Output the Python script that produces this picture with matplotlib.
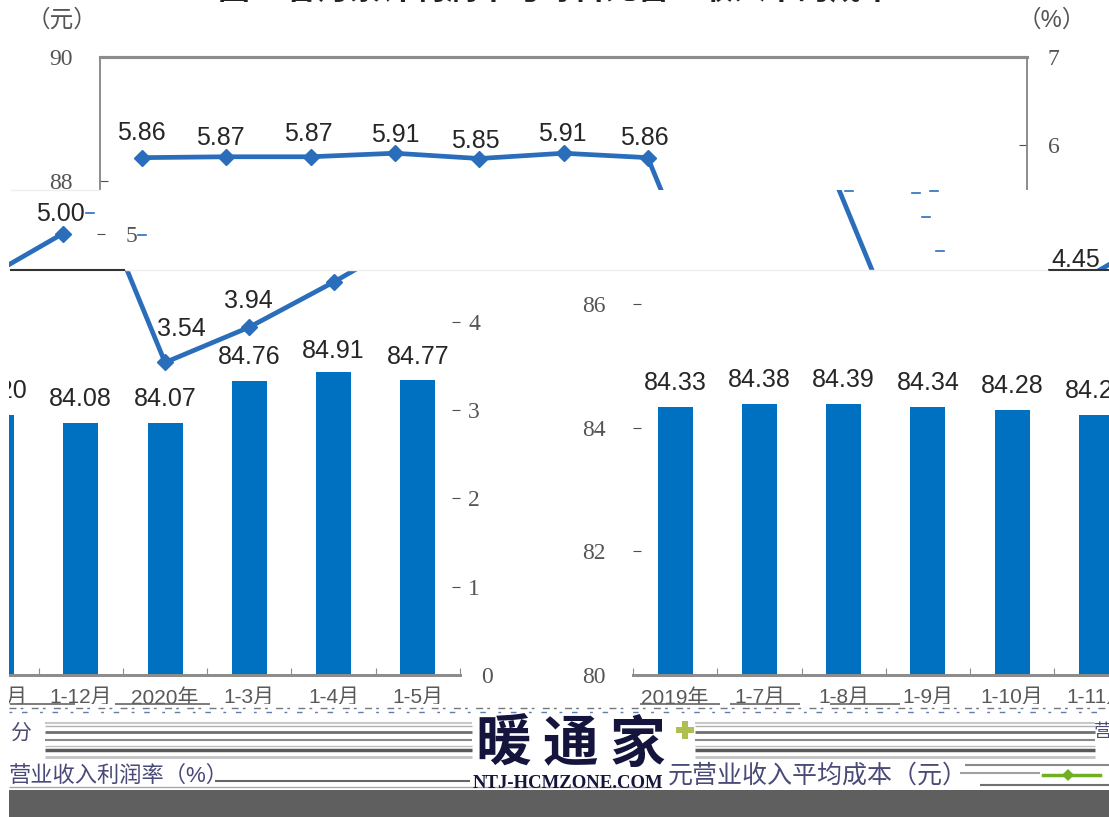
import matplotlib
matplotlib.use('Agg')
from matplotlib import pyplot as plt
from matplotlib.transforms import Bbox, TransformedBbox

plt.rcParams['font.family'] = ['Liberation Sans', 'Noto Sans CJK SC', 'DejaVu Sans']

W, H = 1109, 817

categories = ['2019年', '1-7月', '1-8月', '1-9月', '1-10月', '1-11月',
              '1-12月', '2020年', '1-3月', '1-4月', '1-5月']
cost = [84.33, 84.38, 84.39, 84.34, 84.28, 84.20, 84.08, 84.07, 84.76, 84.91, 84.77]
margin = [5.86, 5.87, 5.87, 5.91, 5.85, 5.91, 5.86, 3.54, 3.94, 4.45, 5.00]
left_ticks = [80, 82, 84, 86, 88, 90]
right_ticks = [0, 1, 2, 3, 4, 5, 6, 7]

# label nudges in pixels, the labels do not sit evenly in the picture
margin_dx = [-1, -6, -2, 0, -4, -1, -3, 16, -1, -3, -2]
margin_dy = [25, 19, 23, 18, 18, 19, 20, 33, 26, 22, 20]
cost_dy = [24, 24, 24, 24, 24, 24, 24, 24, 24, 21, 23]

BLUE_BAR = '#0070c0'
BLUE_LINE = '#2a6ebb'
GREY = '#8c8c8c'
TEXT = '#262626'
TICK = '#4d4d4d'

fig = plt.figure(figsize=(W / 100, H / 100), dpi=100)


def px_box(x0, y0, x1, y1):
    return [x0 / W, 1 - y1 / H, (x1 - x0) / W, (y1 - y0) / H]


def draw_chart(shift, top, bottom, left_edge, with_sides):
    # same chart each time, shifted sideways and cut to one horizontal band
    ax = fig.add_axes(px_box(100 + shift, 57, 1027 + shift, 675))
    ax2 = ax.twinx()
    ax.patch.set_visible(False)
    ax2.patch.set_visible(False)

    xs = list(range(len(categories)))
    ax.bar(xs, [v - left_ticks[0] for v in cost], bottom=left_ticks[0],
           width=0.415, color=BLUE_BAR)
    ax.set_xlim(-0.5, 10.5)
    ax.set_ylim(80, 90)
    ax.set_xticks([x - 0.5 for x in xs] + [10.5])
    ax.set_xticklabels([])
    ax.set_xticks(xs, minor=True)
    ax.set_xticklabels(categories, minor=True, fontsize=15, color='#595959')
    ax.tick_params(axis='x', which='major', direction='in', length=5, color=GREY)
    ax.tick_params(axis='x', which='minor', length=0, pad=9.5)
    ax.set_yticks(left_ticks)
    ax.tick_params(axis='y', direction='in', length=5.8, color=TICK, pad=28,
                   labelsize=17, labelcolor='#555555')
    for lab in ax.get_yticklabels():
        lab.set_family('Liberation Serif')
        lab.set_ha('center')

    ax2.plot(xs, margin, color=BLUE_LINE, lw=3.4, marker='D', ms=8.5)
    ax2.set_ylim(0, 7)
    ax2.set_yticks(right_ticks)
    ax2.tick_params(axis='y', direction='in', length=5.8, color=TICK, pad=15,
                    labelsize=17, labelcolor='#555555')
    for lab in ax2.get_yticklabels():
        lab.set_family('Liberation Serif')
    # the 1 to 4 labels sit closer to the axis than the others
    for tick, val in zip(ax2.yaxis.get_major_ticks(), right_ticks):
        if 1 <= val <= 4:
            tick.set_pad(6)

    for x, v, dy in zip(xs, cost, cost_dy):
        ax.annotate(f'{v:.2f}', (x, v), xytext=(0, dy), textcoords='offset pixels',
                    ha='center', va='center', fontsize=18, color=TEXT)
    for x, v, dx, dy in zip(xs, margin, margin_dx, margin_dy):
        ax2.annotate(f'{v:.2f}', (x, v), xytext=(dx, dy), textcoords='offset pixels',
                     ha='center', va='center', fontsize=18, color=TEXT)

    for a in (ax, ax2):
        for name, spine in a.spines.items():
            spine.set_color(GREY)
            spine.set_linewidth(1.2)
            if name in ('left', 'right') and not with_sides:
                spine.set_visible(False)
        a.spines['top'].set_visible(with_sides)
        a.spines['top'].set_linewidth(2.2)
        a.spines['bottom'].set_linewidth(2)

    box = TransformedBbox(Bbox([[left_edge / W, 1 - bottom / H], [1, 1 - top / H]]),
                          fig.transFigure)
    for a in (ax, ax2):
        for art in a.findobj():
            if art is a:
                continue
            art.set_clip_path(None)
            art.set_clip_box(box)
            art.set_clip_on(True)


draw_chart(0, 0, 190, 0, True)
draw_chart(178, 190, 270, 9, False)
draw_chart(-922, 190, 270, 9, False)
draw_chart(533, 270, 704, 9, False)
draw_chart(-567, 270, 704, 9, False)

# page furniture and the damaged strip at the bottom, in pixel coordinates
top = fig.add_axes([0, 0, 1, 1], zorder=10)
top.set_xlim(0, W)
top.set_ylim(H, 0)
top.axis('off')

top.text(556, -9, '图2  各月累计利润率与每百元营业收入中的成本', ha='center', va='center',
         fontsize=23, fontweight='bold', color='#222222')
top.text(62, 20, '（元）', ha='center', va='center', fontsize=17, color='#555555')
top.text(1052, 20, '（%）', ha='center', va='center', fontsize=17, color='#555555')

top.hlines(190, 10, 100, color='#eeeeee', lw=1)
top.hlines(270, 10, 125, color='#333333', lw=1.5)
top.hlines(270, 1048, 1109, color='#333333', lw=1.5)
top.hlines(270, 125, 1048, color='#eeeeee', lw=1)

# stray blue flecks left in the damaged band
for x, y in [(90, 213), (142, 235), (849, 191), (916, 193), (934, 191), (926, 217), (940, 251)]:
    top.plot([x - 4, x + 4], [y, y], color=BLUE_LINE, lw=1.2)

top.hlines([704] * 5, [10, 115, 640, 730, 830], [75, 210, 720, 800, 900], color='#666666', lw=1.2)
top.hlines(708, 9, 1109, color='#777777', lw=1, linestyles=[(0, (5, 3, 2, 6))])
top.hlines(712, 9, 1109, color='#5b7fb5', lw=1, linestyles=[(0, (2, 7, 4, 9))])

stripes = [(723, '#c8c8c8', 1.5), (726, '#b0b0b0', 1), (732, '#707070', 2), (740, '#8a8a8a', 1.5),
           (746, '#bdbdbd', 1), (750, '#5a5a5a', 2.5), (757, '#c4c4c4', 2)]
for y, c, lw in stripes:
    top.hlines(y, 45, 472, color=c, lw=lw)
    top.hlines(y, 695, 1095, color=c, lw=lw)
top.hlines(765, 965, 1109, color='#8a8a8a', lw=1.5)
top.hlines(773, 960, 1040, color='#a0a0a0', lw=1.5)
top.hlines(781, 215, 470, color='#666666', lw=1.5)
top.hlines(785, 980, 1109, color='#707070', lw=1.5)
top.hlines(787, 9, 660, color='#a8a8a8', lw=1)

top.fill_between([9, W], 790, H, color='#5f5f5f', lw=0)

for x, ch in zip([503, 570, 637], '暖通家'):
    top.text(x, 747, ch, ha='center', va='center', fontsize=40, fontweight='bold',
             color='#14143c')
top.text(568, 783, 'NTJ-HCMZONE.COM', ha='center', va='center', fontsize=13.5,
         fontweight='bold', family='Liberation Serif', color='#14143c')
top.plot([685], [730], marker='P', ms=13, color='#b0c050', mew=0)

top.text(9, 776, '营业收入利润率（%）', ha='left', va='center', fontsize=16, color='#4a4a78')
top.text(668, 776, '元营业收入平均成本（元）', ha='left', va='center', fontsize=18, color='#4a4a78')
top.text(10, 733, '分', ha='left', va='center', fontsize=15, color='#4a4a78')
top.text(1094, 733, '营', ha='left', va='center', fontsize=13, color='#4a4a78')
top.plot([1043, 1100], [775, 775], color='#70b020', lw=2.5)
top.plot([1068], [775], marker='D', ms=6, color='#70b020', mew=0)

fig.savefig('out.png', dpi=100)
